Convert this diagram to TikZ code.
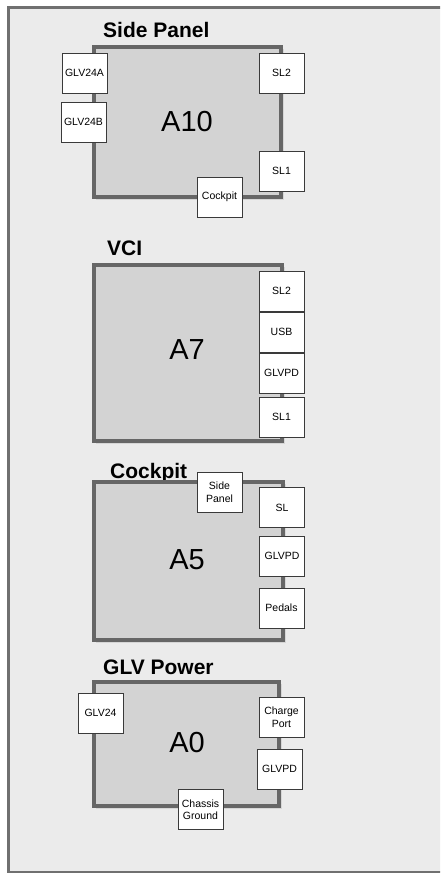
\documentclass[tikz,border=0pt]{standalone}
\usepackage{fontspec}
\setmainfont{Liberation Sans}
\definecolor{framebg}{HTML}{EBEBEB}
\definecolor{framedraw}{HTML}{707070}
\definecolor{boxfill}{HTML}{D3D3D3}
\definecolor{boxdraw}{HTML}{666666}
\definecolor{portdraw}{HTML}{3A3A3A}
\definecolor{shadowc}{HTML}{D6D6D6}
\tikzset{
  board/.style={draw=boxdraw, fill=boxfill, line width=3.5pt},
  shadowbox/.style={fill=shadowc},
  port/.style={draw=portdraw, fill=white, line width=0.8pt, minimum width=45pt, minimum height=40pt, inner sep=0pt, align=center, font=\fontsize{10.5}{12.5}\selectfont},
  title/.style={anchor=base west, inner sep=0pt, font=\fontsize{21}{24}\selectfont\bfseries},
  biglabel/.style={inner sep=0pt, font=\fontsize{29}{32}\selectfont}
}
\begin{document}
\begin{tikzpicture}[x=1pt,y=-1pt]
\useasboundingbox (0,0) rectangle (440,874);
\clip (0,0) rectangle (440,874);
\fill[white] (0,0) rectangle (440,874);
\draw[fill=framebg, draw=framedraw, line width=2.8pt] (8.5,7.5) rectangle (470,872);

% Side Panel
\node[title] (t10) at (103,38) {Side Panel};
\fill[shadowbox] (96,49) rectangle (284,200);
\draw[board] (94,47) rectangle (281,197);
\node[biglabel] (a10) at (187,122) {A10};
\node[port] (p10a) at (84.5,73) {GLV24A};
\node[port] (p10b) at (83.5,122) {GLV24B};
\node[port] (p10c) at (281.5,73) {SL2};
\node[port] (p10d) at (281.5,171) {SL1};
\node[port] (p10e) at (219.5,197) {Cockpit};

% VCI
\node[title] (t7) at (107,256) {VCI};
\fill[shadowbox] (96,267) rectangle (285,444);
\draw[board] (94,265) rectangle (282,441);
\node[biglabel] (a7) at (187,350) {A7};
\node[port] (p7a) at (281.5,291) {SL2};
\node[port] (p7b) at (281.5,332) {USB};
\node[port] (p7c) at (281.5,373) {GLVPD};
\node[port] (p7d) at (281.5,417) {SL1};

% Cockpit
\node[title] (t5) at (110,478) {Cockpit};
\fill[shadowbox] (96,484) rectangle (286,643);
\draw[board] (94,482) rectangle (283,640);
\node[biglabel] (a5) at (187,560) {A5};
\node[port] (p5a) at (219.5,492) {Side\\Panel};
\node[port] (p5b) at (282,507.5) {SL};
\node[port] (p5c) at (282,556) {GLVPD};
\node[port] (p5d) at (281.5,608) {Pedals};

% GLV Power
\node[title] (t0) at (103,674) {GLV Power};
\fill[shadowbox] (96,684) rectangle (282,809);
\draw[board] (94,682) rectangle (279,806);
\node[biglabel] (a0) at (187,743) {A0};
\node[port] (p0a) at (100.5,713) {GLV24};
\node[port] (p0b) at (281.5,717) {Charge\\Port};
\node[port] (p0c) at (279.5,769) {GLVPD};
\node[port] (p0d) at (200.5,809.5) {Chassis\\Ground};
\end{tikzpicture}
\end{document}
